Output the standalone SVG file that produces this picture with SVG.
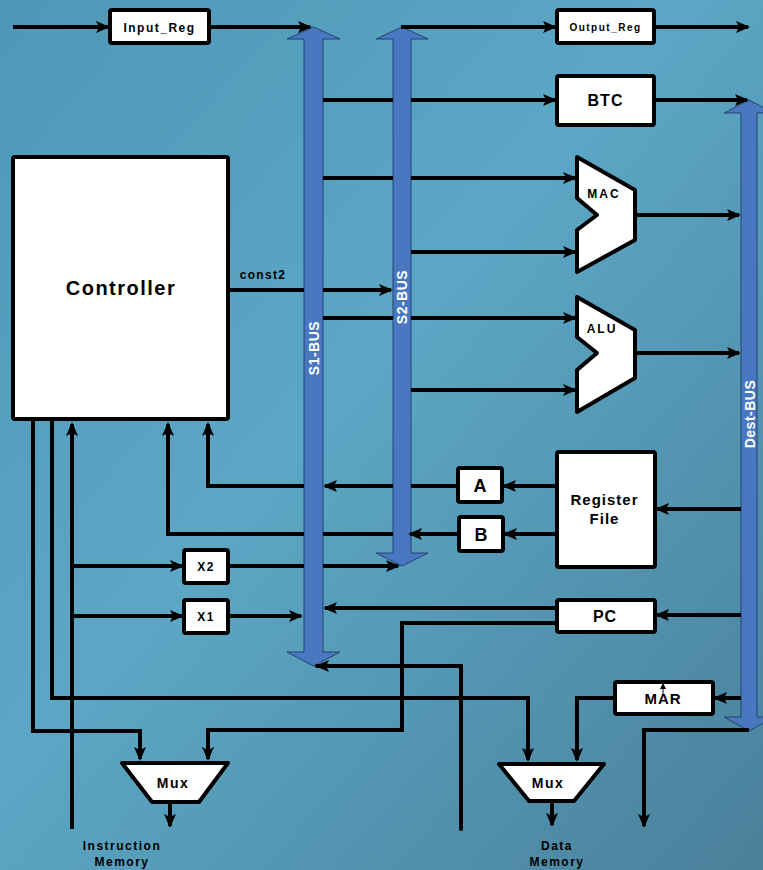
<svg xmlns="http://www.w3.org/2000/svg" width="763" height="870" viewBox="0 0 763 870">
<defs>
<linearGradient id="bg" x1="0" y1="0" x2="1" y2="1">
<stop offset="0" stop-color="#4f97b6"/>
<stop offset="0.45" stop-color="#5ba7c5"/>
<stop offset="1" stop-color="#4a809a"/>
</linearGradient>
<marker id="ah" viewBox="0 0 14 12" refX="12" refY="6" markerWidth="14" markerHeight="12" markerUnits="userSpaceOnUse" orient="auto">
<path d="M0,0 L14,6 L0,12 L3,6 Z" fill="#000"/>
</marker>
<marker id="ahs" viewBox="0 0 6 6" refX="5" refY="3" markerWidth="6" markerHeight="6" markerUnits="userSpaceOnUse" orient="auto">
<path d="M0,0 L6,3 L0,6 Z" fill="#000"/>
</marker>
<style>
.box{fill:#fff;stroke:#000;stroke-width:4;stroke-linejoin:round}
.bus{fill:#4a78c0;stroke:#22436f;stroke-width:1}
.c{fill:none;stroke:#000;stroke-width:4;stroke-linejoin:miter}
.a{marker-end:url(#ah)}
.t{font-family:"Liberation Sans",Arial,sans-serif;font-weight:bold;fill:#000;text-anchor:middle}
.bt{font-family:"Liberation Sans",Arial,sans-serif;font-weight:bold;fill:#fff;text-anchor:middle;font-size:14px;letter-spacing:0.5px}
</style>
</defs>
<rect width="763" height="870" fill="url(#bg)"/>

<g id="buses">
<g id="s1-bus">
<polygon class="bus" points="313.5,27 340,39 323,39 323,652 340,652 313.5,666 287,652 304,652 304,39 287,39"/>
<text class="bt" x="313.5" y="348" dominant-baseline="central" transform="rotate(-90 313.5 348)">S1-BUS</text>
</g>
<g id="s2-bus">
<polygon class="bus" points="402,27 428,39 411,39 411,553 428,553 402,566 376,553 393,553 393,39 376,39"/>
<text class="bt" x="402" y="297" dominant-baseline="central" transform="rotate(-90 402 297)">S2-BUS</text>
</g>
<g id="dest-bus">
<polygon class="bus" points="749,100 774,113 757,113 757,717 774,717 749,731 724,717 741,717 741,113 724,113"/>
<text class="bt" x="749.5" y="414" dominant-baseline="central" transform="rotate(-90 749.5 414)">Dest-BUS</text>
</g>
</g>

<g id="connectors">
<path class="c a" d="M13,27 H108"/>
<path class="c a" d="M209,27 H310"/>
<path class="c a" d="M401,27 H555"/>
<path class="c a" d="M654,27 H748"/>
<path class="c" d="M323,100 H393"/>
<path class="c a" d="M411,100 H555"/>
<path class="c a" d="M654,100 H747"/>
<path class="c" d="M323,178 H393"/>
<path class="c a" d="M411,178 H575"/>
<path class="c a" d="M411,252 H575"/>
<path class="c a" d="M635,215 H739"/>
<path class="c" d="M228,290 H304"/>
<path class="c a" d="M323,290 H391"/>
<path class="c" d="M323,318 H393"/>
<path class="c a" d="M411,318 H575"/>
<path class="c a" d="M411,390 H575"/>
<path class="c a" d="M635,353 H739"/>
<path class="c a" d="M557,486 H504"/>
<path class="c a" d="M557,534 H505"/>
<path class="c" d="M458,486 H411"/>
<path class="c a" d="M393,486 H325"/>
<path class="c a" d="M304,486 H208 V424"/>
<path class="c a" d="M459,534 H410"/>
<path class="c" d="M393,534 H323"/>
<path class="c a" d="M304,534 H168 V424"/>
<path class="c a" d="M741,509 H657"/>
<path class="c a" d="M741,615 H657"/>
<path class="c a" d="M557,608 H325"/>
<path class="c a" d="M557,623 H402 V730 H208 V759"/>
<path class="c a" d="M72,829 V424"/>
<path class="c a" d="M72,566 H182"/>
<path class="c a" d="M72,616 H182"/>
<path class="c" d="M228,566 H304"/>
<path class="c a" d="M323,566 H398"/>
<path class="c a" d="M228,616 H301"/>
<path class="c a" d="M33,419 V731 H140 V759"/>
<path class="c a" d="M52,419 V698 H528 V760"/>
<path class="c a" d="M461,829 V666 H317" stroke-linecap="round"/>
<path class="c a" d="M741,698 H715"/>
<path class="c a" d="M615,698 H577 V760"/>
<path class="c a" d="M749,730 H644 V826"/>
<path class="c a" d="M170,802 V826"/>
<path class="c a" d="M552,801 V825"/>
</g>

<g id="input-reg">
<rect class="box" x="110" y="10" width="99" height="33" rx="2"/>
<text class="t" x="159.5" y="31.5" font-size="12" letter-spacing="1.5">Input_Reg</text>
</g>
<g id="output-reg">
<rect class="box" x="557" y="10" width="97" height="33" rx="2"/>
<text class="t" x="605.5" y="31" font-size="10" letter-spacing="1.5">Output_Reg</text>
</g>
<g id="btc">
<rect class="box" x="557" y="76" width="97" height="49" rx="2"/>
<text class="t" x="605.5" y="106" font-size="16" letter-spacing="1">BTC</text>
</g>
<g id="controller">
<rect class="box" x="13" y="157" width="215" height="262" rx="2"/>
<text class="t" x="121" y="295" font-size="20" letter-spacing="1.5">Controller</text>
<text class="t" x="263" y="279" font-size="12" letter-spacing="1.3">const2</text>
</g>
<g id="mac">
<polygon class="box" points="577,157 635,190 635,240 577,272 577,230 597,215 577,198"/>
<text class="t" x="604" y="198" font-size="12" letter-spacing="2">MAC</text>
</g>
<g id="alu">
<polygon class="box" points="577,297 635,330 635,378 577,412 577,370 597,353 577,337"/>
<text class="t" x="602" y="333" font-size="12" letter-spacing="2">ALU</text>
</g>
<g id="register-file">
<rect class="box" x="557" y="452" width="98" height="115" rx="2"/>
<text class="t" x="604.5" y="505" font-size="15" letter-spacing="1">Register</text>
<text class="t" x="604.5" y="524" font-size="15" letter-spacing="1">File</text>
</g>
<g id="a">
<rect class="box" x="458" y="468" width="44" height="34" rx="2"/>
<text class="t" x="480" y="492" font-size="18">A</text>
</g>
<g id="b">
<rect class="box" x="459" y="517" width="44" height="34" rx="2"/>
<text class="t" x="481" y="541" font-size="18">B</text>
</g>
<g id="x2">
<rect class="box" x="184" y="550" width="44" height="33" rx="2"/>
<text class="t" x="206" y="571" font-size="12" letter-spacing="1.5">X2</text>
</g>
<g id="x1">
<rect class="box" x="184" y="600" width="44" height="33" rx="2"/>
<text class="t" x="206" y="621" font-size="12" letter-spacing="1.5">X1</text>
</g>
<g id="pc">
<rect class="box" x="557" y="600" width="98" height="32" rx="2"/>
<text class="t" x="605" y="621.5" font-size="16" letter-spacing="1">PC</text>
</g>
<g id="mar">
<rect class="box" x="615" y="682" width="98" height="32" rx="2"/>
<text class="t" x="663" y="703.5" font-size="15" letter-spacing="1">MAR</text>
<line x1="663" y1="694" x2="663" y2="684" stroke="#000" stroke-width="1" marker-end="url(#ahs)"/>
</g>
<g id="mux1">
<polygon class="box" points="122,763 228,763 199,802 152,802"/>
<text class="t" x="173" y="788" font-size="14" letter-spacing="1.5">Mux</text>
</g>
<g id="mux2">
<polygon class="box" points="499,764 604,764 574,801 529,801"/>
<text class="t" x="548" y="788" font-size="14" letter-spacing="1.5">Mux</text>
</g>
<g id="instruction-memory">
<text class="t" x="122" y="850" font-size="12" letter-spacing="1.5">Instruction</text>
<text class="t" x="122" y="866" font-size="12" letter-spacing="1.5">Memory</text>
</g>
<g id="data-memory">
<text class="t" x="557" y="850" font-size="12" letter-spacing="1.5">Data</text>
<text class="t" x="557" y="866" font-size="12" letter-spacing="1.5">Memory</text>
</g>
</svg>
